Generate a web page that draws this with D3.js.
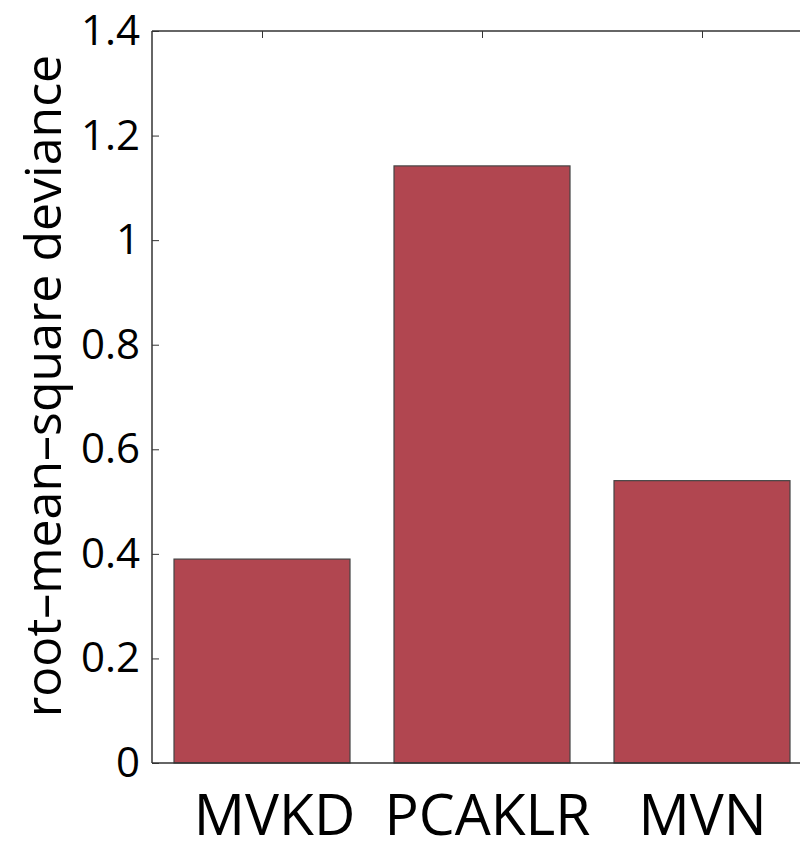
<!DOCTYPE html>
<html>
<head>
<meta charset="utf-8">
<script src="https://cdn.jsdelivr.net/npm/d3@7"></script>
<style>
  body { margin: 0; background: #fff; }
  svg { display: block; font-family: "Open Sans", sans-serif; }
</style>
</head>
<body>
<div id="chart"></div>
<script>
// data
const methods = ["MVKD", "PCAKLR", "MVN"];
const rmsd = [0.39, 1.142, 0.54];
const yTicks = [0, 0.2, 0.4, 0.6, 0.8, 1, 1.2, 1.4];
const labelNudge = [12, 5, 0]; // the source's labels sit a little right of the ticks

const W = 800, H = 842;
const margin = { top: 31, left: 152, bottom: 79 };
const plotH = H - margin.top - margin.bottom; // 732
const plotW = 660; // axes run past the right edge of the window

const svg = d3.select("#chart").append("svg")
    .attr("width", W)
    .attr("height", H);

const g = svg.append("g")
    .attr("transform", `translate(${margin.left},${margin.top})`);

// MATLAB-like x limits [0.5, 3.5]
const x = d3.scaleLinear().domain([0.5, methods.length + 0.5]).range([0, plotW]);
const y = d3.scaleLinear().domain([0, 1.4]).range([plotH, 0]);
const barW = (x(2) - x(1)) * 0.8;

// bars
g.selectAll("rect.bar")
    .data(rmsd)
    .enter().append("rect")
    .attr("class", "bar")
    .attr("x", (d, i) => x(i + 1) - barW / 2)
    .attr("y", d => y(d))
    .attr("width", barW)
    .attr("height", d => y(0) - y(d))
    .attr("fill", "#b14650")
    .attr("stroke", "#444")
    .attr("stroke-width", 1.2);

// left axis, ticks pointing inward
const yAxis = g.append("g")
    .call(d3.axisRight(y).tickValues(yTicks).tickSize(7).tickFormat(d3.format("~g")));
yAxis.select(".domain").remove();
yAxis.selectAll(".tick line").attr("stroke", "#333").attr("stroke-width", 1);
yAxis.selectAll(".tick text")
    .attr("x", -12)
    .attr("text-anchor", "end")
    .attr("fill", "#000")
    .style("font-size", "42px")
    .style("font-family", "'Open Sans', sans-serif");

// bottom axis labels
const xAxis = g.append("g")
    .attr("transform", `translate(0,${plotH})`)
    .call(d3.axisBottom(x).tickValues([1, 2, 3]).tickSize(0).tickFormat(d => methods[d - 1]));
xAxis.select(".domain").remove();
xAxis.selectAll(".tick text")
    .attr("y", 0)
    .attr("dy", 0)
    .attr("transform", (d, i) => `translate(${labelNudge[i]},72)`)
    .attr("fill", "#000")
    .style("font-size", "57px")
    .style("font-family", "'Open Sans', sans-serif");

// top ticks pointing down
const topAxis = g.append("g")
    .call(d3.axisBottom(x).tickValues([1, 2, 3]).tickSize(7).tickFormat(""));
topAxis.select(".domain").remove();
topAxis.selectAll(".tick line").attr("stroke", "#333").attr("stroke-width", 1);

// axes box lines
g.append("line")
    .attr("x1", 0).attr("x2", 0).attr("y1", 0).attr("y2", plotH)
    .attr("stroke", "#333").attr("stroke-width", 1.5);
g.append("line")
    .attr("x1", 0).attr("x2", plotW).attr("y1", plotH).attr("y2", plotH)
    .attr("stroke", "#333").attr("stroke-width", 1.5);
g.append("line")
    .attr("x1", 0).attr("x2", plotW).attr("y1", 0).attr("y2", 0)
    .attr("stroke", "#333").attr("stroke-width", 1.5);

// y label
svg.append("text")
    .attr("transform", "translate(61,386) rotate(-90)")
    .attr("text-anchor", "middle")
    .attr("fill", "#000")
    .style("font-size", "50px")
    .text("root\u2013mean\u2013square deviance");
</script>
</body>
</html>
